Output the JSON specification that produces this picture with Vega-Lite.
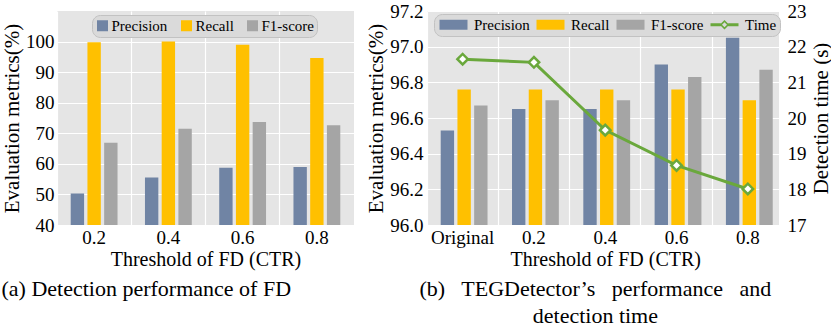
{
  "$schema": "https://vega.github.io/schema/vega-lite/v6.json",
  "padding": {"left": 1, "top": 2, "right": 2, "bottom": 2},
  "spacing": 11,
  "resolve": {"scale": {"color": "independent"}, "legend": {"color": "independent"}},
  "datasets": {
    "left": [
      {"threshold": "0.2", "metric": "Precision", "value": 50.3},
      {"threshold": "0.2", "metric": "Recall", "value": 99.8},
      {"threshold": "0.2", "metric": "F1-score", "value": 66.9},
      {"threshold": "0.4", "metric": "Precision", "value": 55.5},
      {"threshold": "0.4", "metric": "Recall", "value": 100.0},
      {"threshold": "0.4", "metric": "F1-score", "value": 71.5},
      {"threshold": "0.6", "metric": "Precision", "value": 58.7},
      {"threshold": "0.6", "metric": "Recall", "value": 99.0},
      {"threshold": "0.6", "metric": "F1-score", "value": 73.7},
      {"threshold": "0.8", "metric": "Precision", "value": 59.0},
      {"threshold": "0.8", "metric": "Recall", "value": 94.6},
      {"threshold": "0.8", "metric": "F1-score", "value": 72.6}
    ],
    "right": [
      {"threshold": "Original", "metric": "Precision", "value": 96.53},
      {"threshold": "Original", "metric": "Recall", "value": 96.76},
      {"threshold": "Original", "metric": "F1-score", "value": 96.67},
      {"threshold": "0.2", "metric": "Precision", "value": 96.65},
      {"threshold": "0.2", "metric": "Recall", "value": 96.76},
      {"threshold": "0.2", "metric": "F1-score", "value": 96.70},
      {"threshold": "0.4", "metric": "Precision", "value": 96.65},
      {"threshold": "0.4", "metric": "Recall", "value": 96.76},
      {"threshold": "0.4", "metric": "F1-score", "value": 96.70},
      {"threshold": "0.6", "metric": "Precision", "value": 96.90},
      {"threshold": "0.6", "metric": "Recall", "value": 96.76},
      {"threshold": "0.6", "metric": "F1-score", "value": 96.83},
      {"threshold": "0.8", "metric": "Precision", "value": 97.05},
      {"threshold": "0.8", "metric": "Recall", "value": 96.70},
      {"threshold": "0.8", "metric": "F1-score", "value": 96.87}
    ],
    "time": [
      {"threshold": "Original", "time": 21.65},
      {"threshold": "0.2", "time": 21.56},
      {"threshold": "0.4", "time": 19.66},
      {"threshold": "0.6", "time": 18.67},
      {"threshold": "0.8", "time": 18.01}
    ]
  },
  "hconcat": [
    {
      "width": 297,
      "height": 214,
      "title": {"text": "(a) Detection performance of FD", "orient": "bottom", "anchor": "start", "frame": "bounds", "offset": 10},
      "data": {"name": "left"},
      "mark": {"type": "bar", "clip": true},
      "encoding": {
        "x": {
          "field": "threshold", "type": "nominal", "sort": null,
          "scale": {"paddingInner": 0, "paddingOuter": 0},
          "axis": {"title": "Threshold of FD (CTR)", "labelAngle": 0, "bandPosition": 0, "grid": true, "labelPadding": 3, "titlePadding": 2}
        },
        "y": {
          "field": "value", "type": "quantitative",
          "scale": {"domain": [40, 110], "zero": false, "nice": false},
          "axis": {"title": "Evaluation metrics(%)", "values": [40, 50, 60, 70, 80, 90, 100], "grid": true, "labelPadding": 3, "titlePadding": 3}
        },
        "xOffset": {
          "field": "metric", "type": "nominal", "sort": ["Precision", "Recall", "F1-score"],
          "scale": {"paddingInner": 0.2, "paddingOuter": 0.82}
        },
        "color": {
          "field": "metric", "type": "nominal",
          "scale": {"domain": ["Precision", "Recall", "F1-score"], "range": ["#7084a4", "#ffc000", "#a5a5a5"]},
          "legend": {
            "orient": "none", "legendX": 35, "legendY": 4, "direction": "horizontal", "title": null,
            "symbolType": "square", "symbolSize": 121, "symbolStrokeWidth": 0,
            "labelFontSize": 15, "labelOffset": 1.5, "columnPadding": 11,
            "fillColor": "#dadada", "strokeColor": "#c2c2c2", "cornerRadius": 8, "padding": 3
          }
        }
      }
    },
    {
      "width": 352,
      "height": 214,
      "title": {"text": ["(b)\u00a0\u00a0 TEGDetector’s\u00a0\u00a0 performance\u00a0\u00a0 and", "detection time"], "orient": "bottom", "anchor": "middle", "frame": "bounds", "offset": 10, "lineHeight": 27, "dx": -3},
      "encoding": {
        "x": {
          "field": "threshold", "type": "nominal", "sort": ["Original", "0.2", "0.4", "0.6", "0.8"],
          "scale": {"paddingInner": 0, "paddingOuter": 0, "range": [0, 356.5]},
          "axis": {"title": "Threshold of FD (CTR)", "labelAngle": 0, "bandPosition": 0, "grid": true, "labelPadding": 3, "titlePadding": 2}
        }
      },
      "layer": [
        {
          "data": {"name": "right"},
          "mark": {"type": "bar", "clip": true},
          "encoding": {
            "y": {
              "field": "value", "type": "quantitative",
              "scale": {"domain": [96, 97.2], "zero": false, "nice": false},
              "axis": {"title": "Evaluation metrics(%)", "values": [96.0, 96.2, 96.4, 96.6, 96.8, 97.0, 97.2], "format": ".1f", "grid": true, "labelPadding": 4, "titlePadding": 3}
            },
            "xOffset": {
              "field": "metric", "type": "nominal", "sort": ["Precision", "Recall", "F1-score"],
              "scale": {"paddingInner": 0.22, "paddingOuter": 0.57}
            },
            "color": {
              "field": "metric", "type": "nominal",
              "scale": {"domain": ["Precision", "Recall", "F1-score", "Time"], "range": ["#7084a4", "#ffc000", "#a5a5a5", "#6aa83c"]},
              "legend": {
                "orient": "none", "legendX": 7, "legendY": 3, "direction": "horizontal", "title": null,
                "symbolSize": 100, "symbolStrokeWidth": 0, "symbolOffset": 9,
                "labelFontSize": 15, "labelOffset": 13, "columnPadding": 4,
                "fillColor": "#dadada", "strokeColor": "#c2c2c2", "cornerRadius": 8, "padding": 3,
                "encode": {
                  "symbols": {
                    "update": {
                      "shape": {"signal": "datum.value === 'Time' ? 'M-2.8,-0.3H-0.75V0.3H-2.8Z M0.75,-0.3H2.8V0.3H0.75Z M0,-0.95L0.95,0L0,0.95L-0.95,0Z M0,-0.5L-0.5,0L0,0.5L0.5,0Z' : 'M-2.8,-1H2.8V1H-2.8Z'"}
                    }
                  }
                }
              }
            }
          }
        },
        {
          "data": {"name": "time"},
          "mark": {"type": "line", "color": "#6aa83c", "strokeWidth": 3},
          "encoding": {
            "y": {
              "field": "time", "type": "quantitative",
              "scale": {"domain": [17, 23], "zero": false, "nice": false},
              "axis": {"orient": "right", "title": "Detection time (s)", "values": [17, 18, 19, 20, 21, 22, 23], "grid": false, "labelPadding": 8, "titlePadding": 4, "titleAngle": 270, "titleBaseline": "top"}
            }
          }
        },
        {
          "data": {"name": "time"},
          "mark": {"type": "point", "shape": "diamond", "size": 110, "filled": true, "fill": "white", "stroke": "#6aa83c", "strokeWidth": 2.5, "opacity": 1},
          "encoding": {
            "y": {"field": "time", "type": "quantitative", "scale": {"domain": [17, 23], "zero": false, "nice": false}, "axis": null}
          }
        }
      ],
      "resolve": {"scale": {"y": "independent"}}
    }
  ],
  "config": {
    "font": "Liberation Serif",
    "view": {"fill": "#e5e5e5", "stroke": null},
    "axis": {
      "domain": false, "ticks": false, "gridColor": "white", "gridWidth": 1.2, "gridOpacity": 1,
      "labelFont": "Liberation Serif", "labelFontSize": 19, "labelColor": "black",
      "titleFont": "Liberation Serif", "titleFontSize": 21, "titleFontWeight": "normal", "titleColor": "black"
    },
    "axisX": {"titleFontSize": 20},
    "legend": {"labelFont": "Liberation Serif", "labelColor": "black"},
    "title": {"font": "Liberation Serif", "fontSize": 22, "fontWeight": "normal", "color": "black"}
  }
}
